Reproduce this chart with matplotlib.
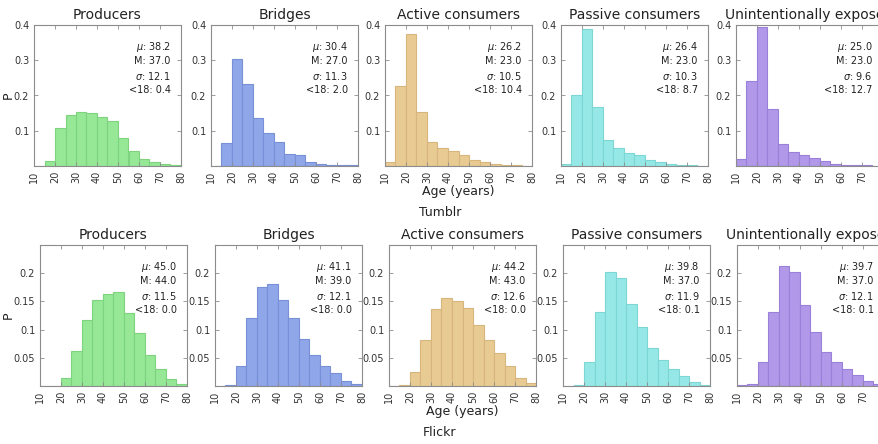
import numpy as np
import matplotlib
matplotlib.use('Agg')
import matplotlib.pyplot as plt

# Age bins (left edges), 5 years wide
bin_left = [10, 15, 20, 25, 30, 35, 40, 45, 50, 55, 60, 65, 70, 75]
groups = ['Producers', 'Bridges', 'Active consumers', 'Passive consumers',
          'Unintentionally exposed']

# Tumblr age distributions
tumblr_producers = [0, 0.015, 0.107, 0.146, 0.152, 0.149, 0.138, 0.129, 0.079, 0.042, 0.021, 0.012, 0.005, 0.002]
tumblr_bridges = [0, 0.065, 0.304, 0.234, 0.136, 0.094, 0.069, 0.033, 0.030, 0.012, 0.007, 0.003, 0.003, 0.002]
tumblr_active = [0.010, 0.228, 0.375, 0.154, 0.069, 0.050, 0.042, 0.032, 0.018, 0.010, 0.005, 0.003, 0.002, 0.001]
tumblr_passive = [0.007, 0.202, 0.389, 0.167, 0.075, 0.050, 0.038, 0.030, 0.018, 0.010, 0.005, 0.003, 0.002, 0.001]
tumblr_unint = [0.021, 0.240, 0.395, 0.162, 0.061, 0.039, 0.030, 0.024, 0.013, 0.006, 0.003, 0.002, 0.002, 0.001]

# Flickr age distributions
flickr_producers = [0, 0, 0.0135, 0.062, 0.117, 0.152, 0.1635, 0.167, 0.129, 0.094, 0.055, 0.030, 0.012, 0.003]
flickr_bridges = [0, 0.001, 0.035, 0.120, 0.176, 0.180, 0.152, 0.120, 0.084, 0.055, 0.036, 0.0235, 0.0094, 0.0035]
flickr_active = [0, 0.002, 0.024, 0.082, 0.136, 0.156, 0.150, 0.139, 0.109, 0.082, 0.058, 0.036, 0.014, 0.005]
flickr_passive = [0.0005, 0.002, 0.042, 0.132, 0.203, 0.192, 0.145, 0.104, 0.068, 0.046, 0.030, 0.018, 0.007, 0.002]
flickr_unint = [0.001, 0.003, 0.042, 0.131, 0.212, 0.202, 0.143, 0.095, 0.060, 0.042, 0.030, 0.020, 0.009, 0.003]

# Stats: mean, median, std, % under 18
tumblr_stats = [('38.2', '37.0', '12.1', '0.4'), ('30.4', '27.0', '11.3', '2.0'),
                ('26.2', '23.0', '10.5', '10.4'), ('26.4', '23.0', '10.3', '8.7'),
                ('25.0', '23.0', '9.6', '12.7')]
flickr_stats = [('45.0', '44.0', '11.5', '0.0'), ('41.1', '39.0', '12.1', '0.0'),
                ('44.2', '43.0', '12.6', '0.0'), ('39.8', '37.0', '11.9', '0.1'),
                ('39.7', '37.0', '12.1', '0.1')]

face_colors = ['#96e896', '#8fa6e8', '#e8cb93', '#95e8e5', '#b198e8']
edge_colors = ['#7ed47e', '#7890d8', '#d6b67c', '#7dd6d3', '#9a80d8']

rows = [
    ([tumblr_producers, tumblr_bridges, tumblr_active, tumblr_passive, tumblr_unint],
     tumblr_stats, 'Tumblr', 0.4, [0.1, 0.2, 0.3, 0.4], ['0.1', '0.2', '0.3', '0.4']),
    ([flickr_producers, flickr_bridges, flickr_active, flickr_passive, flickr_unint],
     flickr_stats, 'Flickr', 0.25, [0.05, 0.1, 0.15, 0.2], ['0.05', '0.1', '0.15', '0.2']),
]

W, H = 879., 444.
fig = plt.figure(figsize=(W / 100, H / 100), dpi=100)

# axes placement in pixels (left edges per row, top/bottom of each row)
lefts = [[34, 211, 385, 561, 736], [40, 215, 389, 563, 737]]
tops = [25, 245]
axw, axh = 147, 141
row_label_y = [212, 432]

grey = '#8c8c8c'
txt = '#333333'

for r, (series, stats, name, ymax, yticks, ylabels) in enumerate(rows):
    for i in range(5):
        l = lefts[r][i]
        ax = fig.add_axes([l / W, 1 - (tops[r] + axh) / H, axw / W, axh / H])
        ax.bar(bin_left, series[i], width=5, align='edge',
               color=face_colors[i], edgecolor=edge_colors[i], linewidth=0.8)
        ax.set_xlim(10, 80)
        ax.set_ylim(0, ymax)
        ax.set_xticks([10, 20, 30, 40, 50, 60, 70, 80])
        ax.set_xticklabels(['10', '20', '30', '40', '50', '60', '70', '80'],
                           rotation=90)
        ax.set_yticks(yticks)
        ax.set_yticklabels(ylabels)
        ax.tick_params(direction='in', length=3, width=0.6, color=grey,
                       labelsize=7, labelcolor=txt, top=True, right=True, pad=3.5)
        for sp in ax.spines.values():
            sp.set_color(grey)
            sp.set_linewidth(0.8)
        ax.set_title(groups[i], fontsize=10, color='#222222', pad=4)
        if i == 2:
            ax.set_xlabel('Age (years)', fontsize=9, color='#222222', labelpad=1)
        mu, med, sd, u18 = stats[i]
        lines = [r'$\mu$: ' + mu, 'M: ' + med, r'$\sigma$: ' + sd, '<18: ' + u18]
        for k, s in enumerate(lines):
            ax.text(0.93, 0.845 - 0.102 * k, s, transform=ax.transAxes,
                    ha='right', va='center', fontsize=7, color='#222222')
    # y label for the row
    fig.text(8.5 / W, 1 - (tops[r] + axh / 2.) / H, 'P', rotation=90,
             ha='center', va='center', fontsize=9, color='#222222')
    fig.text(440 / W, 1 - row_label_y[r] / H, name, ha='center', va='center',
             fontsize=9, color='#222222')

fig.savefig('out.png', dpi=100)
